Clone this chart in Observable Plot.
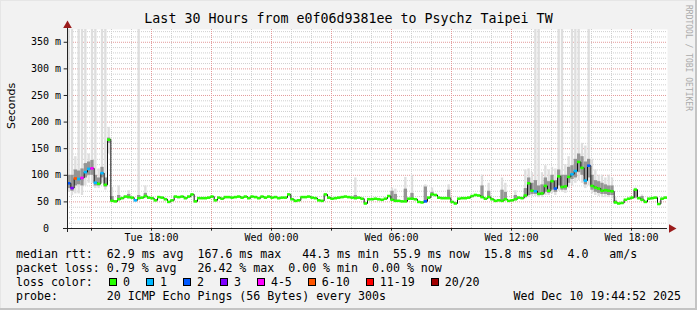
<!DOCTYPE html>
<html><head><meta charset="utf-8">
<script src="https://cdn.jsdelivr.net/npm/d3@7"></script>
<script src="https://cdn.jsdelivr.net/npm/@observablehq/plot@0.6"></script>
<style>
html,body{margin:0;padding:0;background:#fff;}
#wrap{position:relative;width:697px;height:310px;background:#f2f2f2;overflow:hidden;
  box-shadow: inset -2px -2px 0 #c4c4c4, inset 1px 1px 0 #e6e6e6;
  font-family:"DejaVu Sans Mono",monospace;color:#000;}
.t{position:absolute;white-space:pre;font-size:11.6px;line-height:14px;}
#title{position:absolute;left:0;top:11px;width:697px;text-align:center;font-size:13.3px;line-height:16px;white-space:pre;}
#wm{position:absolute;left:684px;top:5px;font-size:8px;writing-mode:vertical-rl;color:#aaaaaa;white-space:pre;line-height:9px;}
#chart{position:absolute;left:0;top:20px;}
.sw{position:absolute;width:6px;height:6px;border:1px solid #000;}
</style></head><body>
<div id="wrap">
  <div id="title"></div>
  <div id="wm">RRDTOOL / TOBI OETIKER</div>
  <div id="chart"></div>
</div>
<script>
// ---- data (10-minute samples, 30 hours) ----
const titleText = "Last 30 Hours from e0f06d9381ee to Psychz Taipei TW";
const median = [
  85,76,94,93,95,106,112,113,86,84,104,82,167,
  52,51,55,57,60,59,58,53,57,58,61,58,57,53,59,58,55,
  50,53,60,59,60,57,60,64,51,57,57,57,58,60,53,58,56,59,59,58,
  59,60,58,60,57,60,59,57,60,58,60,58,59,57,58,58,64,55,52,53,
  59,59,60,58,57,53,52,64,58,56,57,58,59,60,59,58,57,58,56,47,
  55,55,56,55,54,56,61,54,52,52,51,51,56,56,55,50,49,51,58,64,
  63,58,57,57,57,50,47,56,57,57,58,61,63,62,59,56,59,55,52,53,
  52,55,52,53,55,58,57,62,85,71,70,65,66,80,71,89,75,98,78,79,
  97,102,108,125,114,90,118,80,77,75,71,72,71,70,49,47,48,54,56,58,
  73,57,54,50,56,57,58,46,56,58
];
const lossCount = [
  2,3,7,1,5,1,1,4,1,0,1,0,0,0,0,0,0,0,0,0,
  1,0,0,0,0,0,0,0,0,0,0,0,0,0,0,0,0,0,0,0,
  0,0,0,0,0,0,0,0,0,0,0,0,0,0,0,0,0,0,0,0,
  0,0,0,0,0,0,0,0,0,0,0,0,0,0,0,0,0,0,0,0,
  0,0,0,0,0,0,0,0,0,0,0,0,0,0,0,0,0,0,0,0,
  0,0,0,0,0,0,0,2,0,0,0,0,0,0,0,0,0,0,0,0,
  0,0,0,0,0,0,0,0,0,0,0,0,0,0,0,0,0,0,0,0,
  1,0,0,0,0,0,2,0,0,0,0,1,1,0,0,1,2,0,0,0,
  0,0,0,0,0,0,0,0,0,0,0,0,0,0,0,0,0,0,0,0
];
// smoke: sample index, min ping, lower band, upper band, max ping (ms)
const smokeIdx = [0,1,2,3,4,5,6,7,8,9,10,11,12,13,15,18,21,23,86,97,98,101,103,107,109,114,124,126,130,131,134,
  137,138,139,140,141,142,143,144,145,146,147,148,149,150,151,152,153,154,155,156,157,158,159,160,161,162,163,164,170,172];
const smokeMin = [68,62,65,65,62,80,85,85,75,75,85,72,140,50,52,55,54,56,55,52,50,50,54,48,60,55,56,56,50,52,52,
  56,58,60,60,58,58,62,62,65,62,70,68,66,75,80,85,90,85,75,80,65,62,60,58,58,58,56,45,55,52];
const smokeLo  = [75,70,80,82,80,95,100,100,80,80,95,78,160,52,54,57,56,58,57,54,52,52,56,50,62,57,58,58,52,54,54,
  58,62,64,64,62,62,68,66,72,68,80,72,72,85,92,95,105,100,82,95,72,68,66,64,64,62,62,47,57,54];
const smokeHi  = [100,100,110,108,112,122,125,128,100,95,115,95,170,60,62,64,62,66,62,70,64,74,66,78,68,72,80,70,72,68,62,
  75,95,85,90,80,82,95,88,100,90,110,100,100,115,118,130,140,135,125,130,100,90,88,85,82,80,80,52,72,60];
const smokeMax = [400,400,135,400,400,400,140,400,400,112,400,400,190,77,80,71,400,80,95,76,74,96,100,82,76,82,100,85,95,85,71,
  110,112,105,400,400,105,118,110,115,112,400,400,120,135,400,400,400,160,155,400,130,110,100,100,95,100,95,58,76,63];

const lossThresholds = [0,1,2,3,5,10,19,20];
const lossLabels = ["0","1","2","3","4-5","6-10","11-19","20/20"];
const lossColors = ["#26ff00","#00b8ff","#0059ff","#7e00ff","#ff00ff","#ff5500","#ff0000","#a00000"];

const yTickValues = [0,50,100,150,200,250,300,350];
const xTickLabels = ["Tue 18:00","Wed 00:00","Wed 06:00","Wed 12:00","Wed 18:00"];
const xTickTimes = [Date.UTC(2025,11,9,18),Date.UTC(2025,11,10,0),Date.UTC(2025,11,10,6),Date.UTC(2025,11,10,12),Date.UTC(2025,11,10,18)];

const legendRtt  = "median rtt:  62.9 ms avg  167.6 ms max   44.3 ms min  55.9 ms now  15.8 ms sd  4.0   am/s";
const legendLoss = "packet loss: 0.79 % avg   26.42 % max  0.00 % min  0.00 % now";
const legendLossTitle = "loss color:";
const legendProbe = "probe:       20 ICMP Echo Pings (56 Bytes) every 300s";
const legendDate = "Wed Dec 10 19:44:52 2025";

// ---- build ----
const start = new Date(Date.UTC(2025,11,9,13,48));
const end = new Date(+start + 30*3600e3);
const STEP = 600e3;
const yMax = 374;
const bucket = l => lossThresholds.findIndex(t => l <= t);
const data = median.map((m,i)=>({t:new Date(+start+i*STEP), t2:new Date(+start+(i+1)*STEP), m, c: lossColors[bucket(lossCount[i])]}));
const smoke = smokeIdx.map((k,j)=>({t:new Date(+start+k*STEP), t2:new Date(+start+(k+1)*STEP), min:smokeMin[j], lo:smokeLo[j], hi:smokeHi[j], max:smokeMax[j]}));
const hours = d3.utcHour.range(start, end);
const majorX = hours.filter(h => h.getUTCHours() % 3 === 0);
const minorX = hours.filter(h => h.getUTCHours() % 3 !== 0);
const gridY = d3.range(10, yMax, 10);
const majorY = gridY.filter(v => v % 50 === 0);
const minorY = gridY.filter(v => v % 50 !== 0);
const xTicks = xTickTimes.map((t,i)=>({t:new Date(t), label:xTickLabels[i]}));

const chart = Plot.plot({
  width: 697, height: 230,
  marginLeft: 67, marginRight: 30, marginTop: 9, marginBottom: 22,
  x: {type: "utc", domain: [start, end], axis: null},
  y: {domain: [0, yMax], axis: null},
  color: {type: "identity"},
  style: {background: "transparent", overflow: "visible", fontFamily: "DejaVu Sans Mono", color: "#000"},
  marks: [
    Plot.frame({fill: "white", stroke: "none"}),
    Plot.ruleX(minorX, {stroke: "#cfcfcf", strokeDasharray: "1,1"}),
    Plot.ruleY(minorY, {stroke: "#cfcfcf", strokeDasharray: "1,1"}),
    Plot.ruleX(majorX, {stroke: "#e39a9a", strokeDasharray: "1,1"}),
    Plot.ruleY(majorY, {stroke: "#e39a9a", strokeDasharray: "1,1"}),
    Plot.rect(smoke, {x1: "t", x2: "t2", y1: "min", y2: "max", fill: "#dedede", insetLeft: 0.5, insetRight: 0.5, clip: true}),
    Plot.rect(smoke, {x1: "t", x2: "t2", y1: "lo", y2: "hi", fill: "#959595", clip: true}),
    Plot.line(data, {x: "t", y: "m", curve: "step-after", stroke: "#151515", strokeWidth: 1}),
    Plot.ruleY(data, {x1: "t", x2: "t2", y: "m", stroke: "c", strokeWidth: 2.6}),
    // axes
    Plot.ruleY([0], {stroke: "#222", insetLeft: -4}),
    Plot.ruleX([start], {stroke: "#222", insetTop: -4, insetBottom: -4}),
    Plot.ruleX(majorX, {y1: 0, y2: -5, stroke: "#222"}),
    Plot.ruleY(majorY, {x1: start, x2: new Date(+start - STEP), stroke: "#222"}),
    Plot.dot([{x: end, y: 0}], {x: "x", y: "y", symbol: "triangle", rotate: 90, r: 3.2, fill: "#9b1c1c", stroke: "none", dx: 4}),
    Plot.dot([{x: start, y: yMax}], {x: "x", y: "y", symbol: "triangle", r: 3.2, fill: "#9b1c1c", stroke: "none", dy: -4}),
    // labels
    Plot.text(yTickValues, {y: d => d, text: d => String(d), frameAnchor: "left", textAnchor: "end", dx: -18.5, fontSize: 10, fill: "#000"}),
    Plot.text(yTickValues.filter(v => v > 0), {y: d => d, text: () => "m", frameAnchor: "left", textAnchor: "start", dx: -12.5, fontSize: 10, fill: "#000"}),
    Plot.text(xTicks, {x: "t", text: "label", frameAnchor: "bottom", dy: 9, lineAnchor: "middle", fontSize: 10, fill: "#000"}),
    Plot.text(["Seconds"], {text: d => d, frameAnchor: "left", dx: -56, rotate: -90, fontSize: 11, fontFamily: "DejaVu Sans", fill: "#000"})
  ]
});
document.getElementById("chart").appendChild(chart);
document.getElementById("title").textContent = titleText;

const wrap = document.getElementById("wrap");
function addText(str, left, top, extra) {
  const d = document.createElement("div");
  d.className = "t"; d.textContent = str;
  d.style.left = left + "px"; d.style.top = top + "px";
  if (extra) Object.assign(d.style, extra);
  wrap.appendChild(d); return d;
}
addText(legendRtt, 16, 247);
addText(legendLoss, 16, 261);
addText(legendLossTitle, 16, 275);
addText(legendProbe, 16, 289);
addText(legendDate, 0, 289, {left: "auto", right: "16px"});
let x = 109;
lossLabels.forEach((lab, i) => {
  const s = document.createElement("div");
  s.className = "sw"; s.style.left = x + "px"; s.style.top = "278px"; s.style.background = lossColors[i];
  wrap.appendChild(s);
  addText(lab, x + 14, 275);
  x = x + 14 + lab.length * 6.98 + 16;
});
</script>
</body></html>
